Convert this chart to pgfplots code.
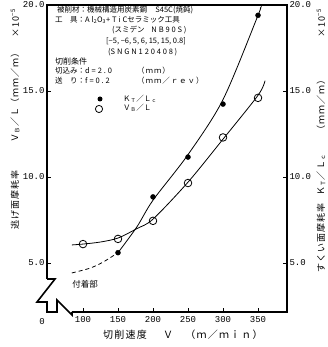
\documentclass[border=0pt]{standalone}
\usepackage{fontspec}
\setmainfont{Noto Sans CJK JP}
\newfontfamily\jp{Noto Sans CJK JP}
\newfontfamily\jpl{Noto Sans CJK JP}[LetterSpace=25]
\newfontfamily\jpt{Noto Sans CJK JP}[LetterSpace=12]
\newfontfamily\mono{Liberation Mono}
\usepackage{pgfplots}
\pgfplotsset{compat=1.18}
\newcommand{\PP}[2]{(#1pt-47pt,312pt-#2pt)}
\begin{document}
\begin{tikzpicture}
\path[use as bounding box] (-47pt,-35pt) rectangle (280pt,312pt);
\pgfplotsset{myax/.style={
  scale only axis, width=240pt, height=307pt,
  xmin=48.6, xmax=391.4, ymin=2.151, ymax=20,
  axis line style={draw=none},
  tick align=inside, major tick length=4pt,
  every tick/.style={black, line width=0.8pt},
  tick label style={font=\mono\fontsize{9}{9}\selectfont},
  ytick={5,10,15,20}, yticklabels={5.0,10.0,15.0,20.0},
}}
\begin{axis}[myax,
  xtick={100,150,200,250,300,350}, xticklabels={100,150,200,250,300,350},
  xtick pos=bottom, ytick pos=left,
  xticklabel style={yshift=-1pt},
  yticklabel style={xshift=1pt},
  clip=false,
]
% curves
\addplot[black, line width=0.8pt, smooth, dash pattern=on 4pt off 3pt] coordinates {(84,4.42) (110,4.7) (129,5.06) (150,5.6)};
\addplot[black, line width=0.8pt, smooth] coordinates {(150,5.6) (177,7.1) (200,8.65) (250,11.3) (300,14.5) (350,19.4) (353,19.8)};
\addplot[black, line width=0.8pt, smooth] coordinates {(84,6.05) (100,6.1) (125,6.22) (150,6.45) (177,7.0) (200,7.55) (250,9.7) (300,12.2) (350,14.75) (360,15.6)};
% marks
\addplot[only marks, mark=*, mark size=2.5pt, black] coordinates {(150,5.6) (200,8.84) (250,11.16) (300,14.24) (350,19.4)};
\addplot[only marks, mark=o, mark size=3.8pt, black, line width=0.8pt, mark options={fill=white}] coordinates {(100,6.1) (150,6.4) (200,7.45) (250,9.65) (300,12.3) (350,14.6)};
\end{axis}
\begin{axis}[myax,
  xtick=\empty,
  ytick pos=right, yticklabel pos=right,
  yticklabel style={xshift=-1pt},
]
\end{axis}
% frame with breaks
\draw[line width=1.6pt, line join=miter] \PP{47}{279} -- \PP{47}{5} -- \PP{287}{5} -- \PP{287}{312} -- \PP{72}{312};
\draw[line width=1.6pt, line join=miter] \PP{47}{279} -- \PP{55}{279} -- \PP{37}{302} -- \PP{47}{302} -- \PP{47}{312} -- \PP{57}{312} -- \PP{57}{300} -- \PP{72}{315} -- \PP{72}{312};
\node[font=\mono\fontsize{9}{9}\selectfont] at \PP{42}{322} {0};
% annotation block
\begin{scope}[every node/.style={anchor=west, inner sep=0pt, font=\jp\fontsize{7.5}{7.5}\selectfont}]
\node at \PP{57}{10} {被削材：機械構造用炭素鋼\hspace{1.1em}S45C(焼鈍)};
\node at \PP{55}{20} {工　具：{\jpl Al\textsubscript{2}O\textsubscript{3}+TiC}セラミック工具};
\node at \PP{112}{30} {({\jp スミデン}\hspace{0.9em}{\jpl NB90S} )};
\node at \PP{106}{41} {[−5, −6, 5, 6, 15, 15, 0.8]};
\node at \PP{108}{52} {({\jpl SNGN120408} )};
\node at \PP{55}{61} {\fontsize{8}{8}\selectfont 切削条件};
\node at \PP{55}{71} {切込み：{\jpl d=2.0}};
\node at \PP{137}{71} {{\jpt （ｍｍ）}};
\node at \PP{55}{81} {送　り：{\jpl f=0.2}};
\node at \PP{137}{81} {{\jpt （ｍｍ／ｒｅｖ）}};
\node at \PP{123}{99} {Ｋ\textsubscript{Ｔ}／Ｌ\textsubscript{ｃ}};
\node at \PP{123}{108} {Ｖ\textsubscript{Ｂ}／Ｌ};
\end{scope}
\fill \PP{100}{99} circle (2.5pt);
\draw[line width=0.8pt] \PP{99}{109} circle (3.6pt);
% labels
\node[font=\jp\fontsize{8.5}{8.5}\selectfont, inner sep=0pt] at \PP{85}{284} {付着部};
\begin{scope}[every node/.style={rotate=90, inner sep=0pt, font=\jpt\fontsize{9}{9}\selectfont}]
\node at \PP{15}{200} {逃げ面摩耗率};
\node at \PP{15}{125} {Ｖ\textsubscript{Ｂ}／Ｌ};
\node at \PP{15}{78} {（ｍｍ／ｍ）};
\node at \PP{15}{23} {×10\textsuperscript{−5}};
\node at \PP{321}{238} {すくい面摩耗率};
\node at \PP{321}{175} {Ｋ\textsubscript{Ｔ}／Ｌ\textsubscript{ｃ}};
\node at \PP{321}{105} {（ｍｍ／ｍ）};
\node at \PP{321}{23} {×10\textsuperscript{−5}};
\end{scope}
\begin{scope}[every node/.style={inner sep=0pt, font=\jpt\fontsize{10}{10}\selectfont}]
\node at \PP{125}{335} {切削速度};
\node at \PP{168}{335} {Ｖ};
\node at \PP{224}{335} {（ｍ／ｍｉｎ）};
\end{scope}
\end{tikzpicture}
\end{document}
